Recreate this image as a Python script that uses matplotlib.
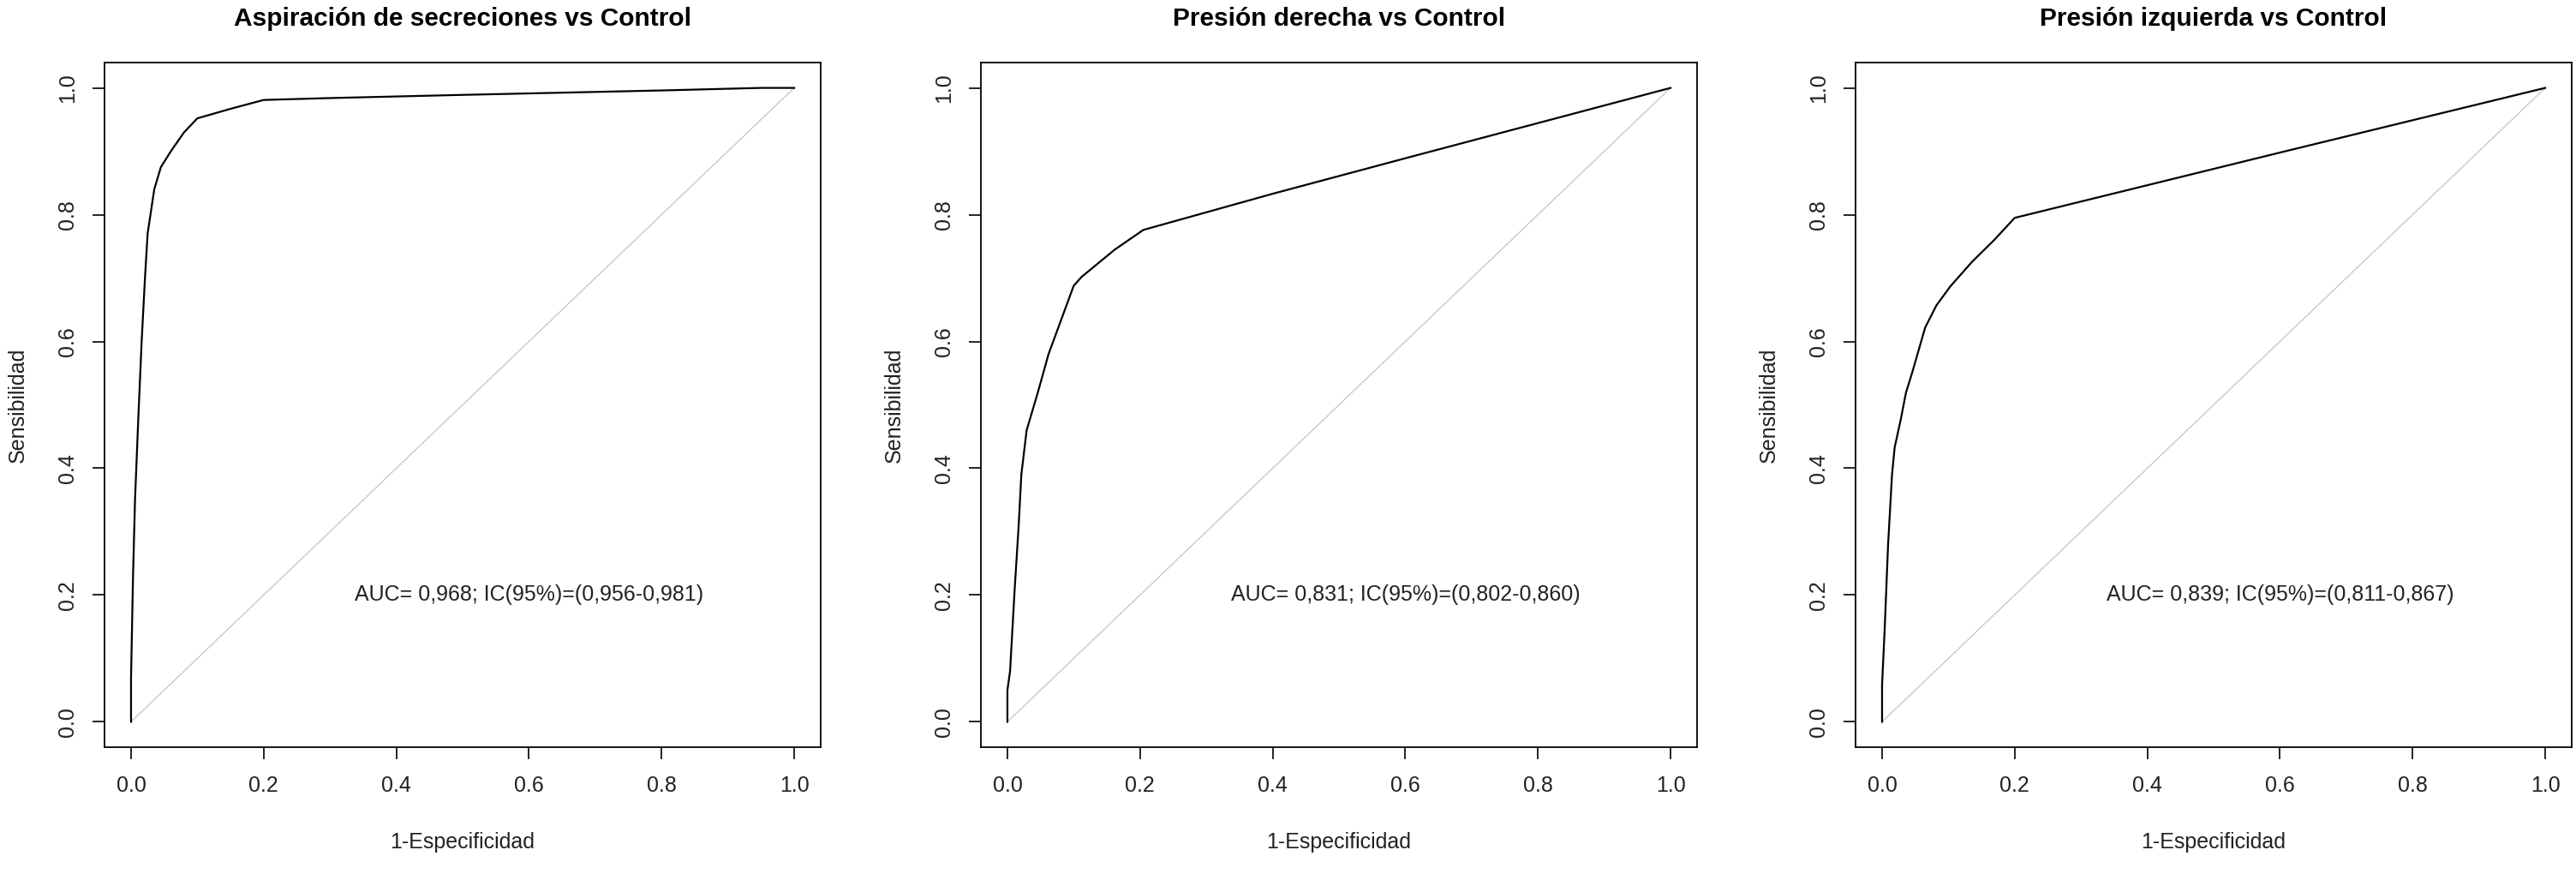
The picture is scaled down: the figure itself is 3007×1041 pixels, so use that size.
import numpy as np
import matplotlib
matplotlib.use("Agg")
import matplotlib.pyplot as plt

plt.rcParams["font.family"] = ["Liberation Sans", "DejaVu Sans"]

# ROC curves (1-especificidad, sensibilidad)
titles = [
    "Aspiración de secreciones vs Control",
    "Presión derecha vs Control",
    "Presión izquierda vs Control",
]

fpr_aspiracion = [0, 0, 0.003, 0.006, 0.011, 0.016, 0.021, 0.025, 0.035, 0.045,
                  0.06, 0.08, 0.1, 0.15, 0.2, 0.3, 0.5, 0.8, 0.95, 1.0]
tpr_aspiracion = [0, 0.07, 0.23, 0.35, 0.48, 0.60, 0.70, 0.77, 0.84, 0.875,
                  0.90, 0.93, 0.952, 0.967, 0.981, 0.984, 0.989, 0.996, 1.0, 1.0]

fpr_derecha = [0, 0, 0.004, 0.011, 0.017, 0.021, 0.029, 0.046, 0.062, 0.1,
               0.112, 0.162, 0.205, 0.4, 0.6, 1.0]
tpr_derecha = [0, 0.05, 0.08, 0.21, 0.31, 0.39, 0.46, 0.52, 0.58, 0.688,
               0.702, 0.745, 0.776, 0.833, 0.889, 1.0]

fpr_izquierda = [0, 0, 0.004, 0.009, 0.015, 0.019, 0.028, 0.036, 0.046, 0.065,
                 0.082, 0.103, 0.136, 0.169, 0.2, 0.6, 1.0]
tpr_izquierda = [0, 0.058, 0.148, 0.278, 0.39, 0.433, 0.476, 0.519, 0.553, 0.622,
                 0.657, 0.687, 0.726, 0.76, 0.795, 0.898, 1.0]

auc_labels = [
    "AUC= 0,968; IC(95%)=(0,956-0,981)",
    "AUC= 0,831; IC(95%)=(0,802-0,860)",
    "AUC= 0,839; IC(95%)=(0,811-0,867)",
]

ticks = [0.0, 0.2, 0.4, 0.6, 0.8, 1.0]
tick_labels = ["0.0", "0.2", "0.4", "0.6", "0.8", "1.0"]

curves = [
    (fpr_aspiracion, tpr_aspiracion),
    (fpr_derecha, tpr_derecha),
    (fpr_izquierda, tpr_izquierda),
]

W, H = 3007, 1041
fig = plt.figure(figsize=(W / 100, H / 100), dpi=100)

lefts = [122, 1145, 2166]
ax_w = 836
ax_top, ax_bottom = 73, 872

for i, (fpr, tpr) in enumerate(curves):
    ax = fig.add_axes([lefts[i] / W, 1 - ax_bottom / H,
                       ax_w / W, (ax_bottom - ax_top) / H])

    ax.plot([0, 1], [0, 1], color="#c4c4c4", lw=0.9)
    ax.plot(fpr, tpr, color="black", lw=1.6)

    ax.text(0.6, 0.2, auc_labels[i], ha="center", va="center",
            fontsize=18, color="#222222")

    ax.set_xlim(-0.04, 1.04)
    ax.set_ylim(-0.04, 1.04)
    ax.set_xticks(ticks)
    ax.set_xticklabels(tick_labels)
    ax.set_yticks(ticks)
    ax.set_yticklabels(tick_labels, rotation=90, va="center")

    ax.tick_params(axis="both", length=10, width=1.2, labelsize=18,
                   colors="black", labelcolor="#222222")
    ax.tick_params(axis="x", pad=14)
    ax.tick_params(axis="y", pad=12)
    for s in ax.spines.values():
        s.set_linewidth(1.3)

    ax.set_xlabel("1-Especificidad", fontsize=18, color="#222222", labelpad=30)
    ax.set_ylabel("Sensibilidad", fontsize=18, color="#222222", labelpad=25)
    ax.set_title(titles[i], fontsize=21.5, fontweight="bold", pad=31)

fig.savefig("out.png", dpi=100)
